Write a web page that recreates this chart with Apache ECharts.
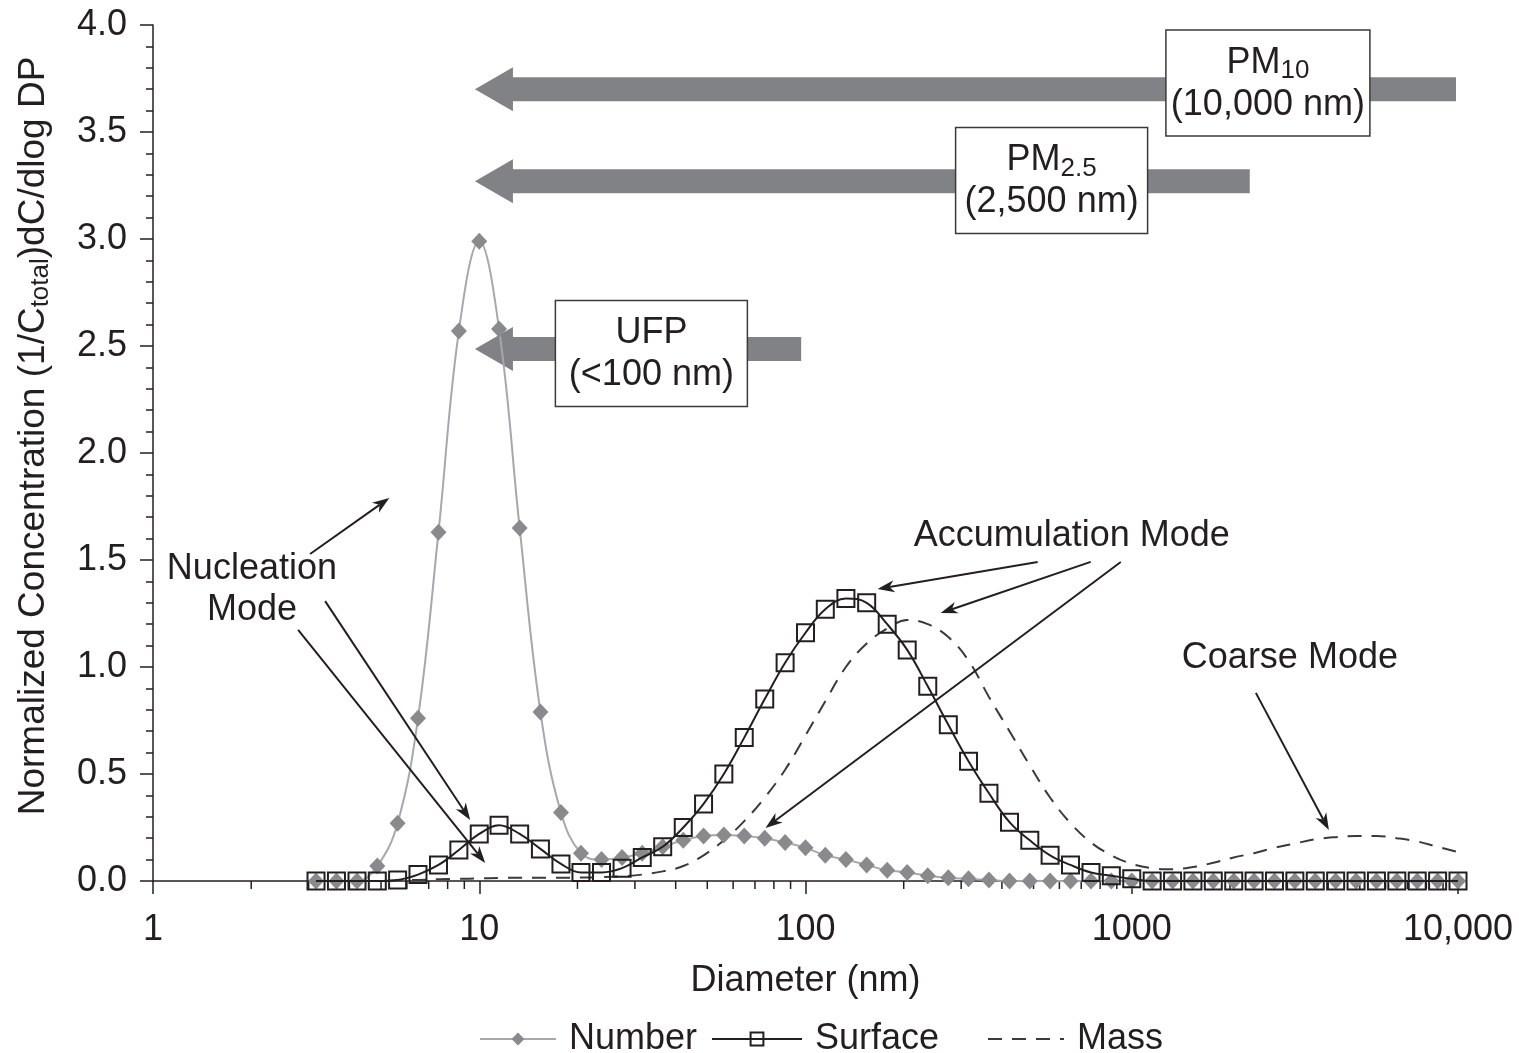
<!DOCTYPE html>
<html>
<head>
	<meta charset="utf-8">
	<title>Particle size distribution</title>
	<script src="https://cdn.jsdelivr.net/npm/echarts@6/dist/echarts.min.js"></script>
	<style>html, body { margin: 0; padding: 0; background: #fff; }</style>
</head>
<body>
	<div id="main" style="width: 1519px;height: 1053px;"></div>
<script type="text/javascript">
	// diameters (nm), 16 points per decade
	var diameters = [3.16, 3.65, 4.22, 4.87, 5.62, 6.49, 7.50, 8.66, 10, 11.5, 13.3, 15.4, 17.8, 20.5, 23.7, 27.4,
		31.6, 36.5, 42.2, 48.7, 56.2, 64.9, 75.0, 86.6, 100, 115, 133, 154, 178, 205, 237, 274,
		316, 365, 422, 487, 562, 649, 750, 866, 1000, 1155, 1334, 1540, 1778, 2054, 2371, 2738,
		3162, 3652, 4217, 4870, 5623, 6494, 7499, 8660, 10000];
	var numberVals = [0, 0, 0, 0.07, 0.27, 0.76, 1.63, 2.57, 2.99, 2.58, 1.65, 0.79, 0.32, 0.13, 0.10, 0.11,
		0.13, 0.16, 0.19, 0.21, 0.215, 0.21, 0.20, 0.18, 0.155, 0.12, 0.10, 0.075, 0.05, 0.04, 0.025, 0.015,
		0.01, 0.005, 0, 0, 0, 0, 0, 0, 0, 0, 0, 0, 0, 0, 0, 0,
		0, 0, 0, 0, 0, 0, 0, 0, 0];
	var surfaceVals = [0, 0, 0, 0, 0.005, 0.03, 0.075, 0.145, 0.22, 0.26, 0.22, 0.15, 0.08, 0.04, 0.04, 0.06,
		0.11, 0.16, 0.25, 0.36, 0.50, 0.67, 0.85, 1.02, 1.16, 1.27, 1.32, 1.30, 1.20, 1.08, 0.91, 0.73,
		0.56, 0.41, 0.275, 0.19, 0.12, 0.075, 0.04, 0.025, 0.01, 0, 0, 0, 0, 0, 0, 0,
		0, 0, 0, 0, 0, 0, 0, 0, 0];
	var massVals = [0, 0, 0, 0, 0.003, 0.005, 0.008, 0.01, 0.012, 0.014, 0.015, 0.015, 0.015, 0.016, 0.018, 0.022,
		0.03, 0.045, 0.07, 0.12, 0.19, 0.28, 0.39, 0.52, 0.68, 0.84, 1.00, 1.11, 1.18, 1.22, 1.20, 1.14,
		1.03, 0.86, 0.70, 0.54, 0.39, 0.27, 0.18, 0.12, 0.08, 0.06, 0.055, 0.065, 0.085, 0.11, 0.13, 0.155,
		0.175, 0.195, 0.205, 0.21, 0.21, 0.20, 0.185, 0.16, 0.135];
	var xTickLabels = ['1', '10', '100', '1000', '10,000'];
	var xMinorTicks = [2, 3, 4, 5, 6, 7, 8, 9, 20, 30, 40, 50, 60, 70, 80, 90,
		200, 300, 400, 500, 600, 700, 800, 900, 2000, 3000, 4000, 5000, 6000, 7000, 8000, 9000];

	// annotations, anchored in data coordinates (diameter, value)
	var sizeArrows = [
		{ tip: 9.7, end: 9860, y: 3.70 },
		{ tip: 9.7, end: 2300, y: 3.27 },
		{ tip: 9.7, end: 97, y: 2.486 }
	];
	var sizeBoxes = [
		{ name: 'PM', sub: '10', range: '(10,000 nm)', x: 2614, y: 3.729, w: 204 },
		{ name: 'PM', sub: '2.5', range: '(2,500 nm)', x: 568, y: 3.273, w: 192 },
		{ name: 'UFP', sub: '', range: '(<100 nm)', x: 33.7, y: 2.465, w: 192 }
	];
	var modeLabels = [
		{ text: 'Nucleation\nMode', x: 2.01, y: 1.36 },
		{ text: 'Accumulation Mode', x: 654.6, y: 1.612 },
		{ text: 'Coarse Mode', x: 3053, y: 1.04 }
	];
	var modeArrows = [
		[[3.03, 1.528], [5.30, 1.790]],
		[[3.37, 1.308], [9.38, 0.285]],
		[[2.785, 1.173], [10.43, 0.084]],
		[[514.8, 1.491], [166.3, 1.364]],
		[[748.5, 1.491], [259.5, 1.252]],
		[[925.4, 1.491], [75.4, 0.248]],
		[[2401, 0.879], [4021, 0.238]]
	];

	var FONT = 'Liberation Sans, Arial, sans-serif';
	var INK = '#231f20';

	function pairs(xs, ys) {
		return xs.map(function (x, i) { return [x, ys[i]]; });
	}

	var legendText = { fontSize: 36, color: INK, fontFamily: FONT, padding: [0, 0, 0, 8] };

	var myChart = echarts.init(document.getElementById('main'));
	var option = {
		animation: false,
		textStyle: { fontFamily: FONT, color: INK },
		grid: { left: 153, right: 61, top: 25, bottom: 172, containLabel: false, outerBoundsMode: 'none' },
		legend: [
			{ data: ['Number'], left: 474, top: 1016, itemWidth: 76, itemHeight: 16, textStyle: legendText },
			{ data: ['Surface'], left: 706, top: 1016, itemWidth: 90, itemHeight: 16, textStyle: legendText },
			{ data: ['Mass'], left: 982, top: 1016, itemWidth: 76, itemHeight: 16, textStyle: legendText,
				itemStyle: { color: 'rgba(0,0,0,0)', borderColor: 'rgba(0,0,0,0)', borderWidth: 0 } }
		],
		xAxis: {
			type: 'log',
			logBase: 10,
			min: 1,
			max: 10000,
			name: 'Diameter (nm)',
			nameLocation: 'middle',
			nameGap: 82,
			nameTextStyle: { fontSize: 36, color: INK, fontFamily: FONT },
			axisLine: { lineStyle: { color: INK, width: 1.5 } },
			axisTick: { inside: false, length: 13, lineStyle: { color: INK, width: 1.5 } },
			axisLabel: {
				fontSize: 36, color: INK, fontFamily: FONT, margin: 31,
				formatter: function (v) { return xTickLabels[Math.round(Math.log10(v))]; }
			},
			splitLine: { show: false }
		},
		yAxis: {
			type: 'value',
			min: 0,
			max: 4,
			interval: 0.5,
			name: '{m|Normalized Concentration (1/C}{s|total}{m|)dC/dlog DP}',
			nameLocation: 'middle',
			nameGap: 99,
			nameTextStyle: {
				padding: [0, 0, 0, 34],
				rich: {
					m: { fontSize: 37, fontFamily: FONT, color: INK, lineHeight: 40 },
					s: { fontSize: 26, fontFamily: FONT, color: INK, lineHeight: 20, verticalAlign: 'bottom' }
				}
			},
			axisLine: { show: true, lineStyle: { color: INK, width: 1.5 } },
			axisTick: { show: true, inside: false, length: 13, lineStyle: { color: INK, width: 1.5 } },
			minorTick: { show: true, splitNumber: 5, length: 7, lineStyle: { color: INK, width: 1.5 } },
			axisLabel: {
				fontSize: 36, color: INK, fontFamily: FONT, margin: 26,
				formatter: function (v) { return v.toFixed(1); }
			},
			splitLine: { show: false }
		},
		series: [
			{
				name: 'Mass',
				type: 'line',
				data: pairs(diameters, massVals),
				smooth: 0.4,
				showSymbol: false,
				symbol: 'none',
				z: 2,
				lineStyle: { color: '#3a3a3c', width: 2, type: [14, 10] },
				itemStyle: { color: '#3a3a3c' }
			},
			{
				name: 'Number',
				type: 'line',
				data: pairs(diameters, numberVals),
				smooth: 0.4,
				symbol: 'diamond',
				symbolSize: [16, 17],
				z: 3,
				lineStyle: { color: '#a7a8ab', width: 2 },
				itemStyle: { color: '#898a8d' }
			},
			{
				name: 'Surface',
				type: 'line',
				data: pairs(diameters, surfaceVals),
				smooth: 0.4,
				symbol: 'rect',
				symbolSize: 17,
				z: 4,
				lineStyle: { color: INK, width: 2 },
				itemStyle: { color: 'rgba(255,255,255,0)', borderColor: INK, borderWidth: 2 }
			},
			{
				// minor ticks of the log axis at 2..9 of each decade
				name: 'minorTicks',
				type: 'custom',
				silent: true,
				clip: false,
				data: xMinorTicks.map(function (v) { return [v, 0]; }),
				renderItem: function (params, api) {
					var p = api.coord([api.value(0), 0]);
					return {
						type: 'line',
						shape: { x1: p[0], y1: p[1], x2: p[0], y2: p[1] + 8 },
						style: { stroke: INK, lineWidth: 1.5 }
					};
				}
			}
		]
	};
	myChart.setOption(option);

	// annotations drawn after layout so they follow the axes
	function px(d, v) {
		return myChart.convertToPixel({ gridIndex: 0 }, [d, v]);
	}
	var els = [];
	sizeArrows.forEach(function (a) {
		var t = px(a.tip, a.y), r = px(a.end, a.y);
		var x = t[0], y = t[1];
		els.push({
			type: 'polygon', z: 1, silent: true,
			shape: { points: [[x, y], [x + 38, y - 22], [x + 38, y - 12], [r[0], y - 12], [r[0], y + 12], [x + 38, y + 12], [x + 38, y + 22]] },
			style: { fill: '#818285' }
		});
	});
	sizeBoxes.forEach(function (b) {
		var c = px(b.x, b.y);
		els.push({
			type: 'rect', z: 5, silent: true,
			shape: { x: c[0] - b.w / 2, y: c[1] - 53, width: b.w, height: 106 },
			style: { fill: '#fff', stroke: '#3a3a3c', lineWidth: 1.5 }
		});
		var txt = '{m|' + b.name + '}' + (b.sub ? '{s|' + b.sub + '}' : '') + '\n{m|' + b.range + '}';
		els.push({
			type: 'text', z: 6, silent: true,
			x: c[0], y: c[1] + 1,
			style: {
				text: txt, align: 'center', verticalAlign: 'middle',
				rich: {
					m: { fontSize: 36, fontFamily: FONT, fill: INK, lineHeight: 42 },
					s: { fontSize: 26, fontFamily: FONT, fill: INK, lineHeight: 20, verticalAlign: 'bottom' }
				}
			}
		});
	});
	modeLabels.forEach(function (m) {
		var c = px(m.x, m.y);
		els.push({
			type: 'text', z: 6, silent: true,
			x: c[0], y: c[1],
			style: { text: m.text, align: 'center', verticalAlign: 'middle', fontSize: 36, fontFamily: FONT, fill: INK, lineHeight: 41 }
		});
	});
	modeArrows.forEach(function (a) {
		var s = px(a[0][0], a[0][1]), t = px(a[1][0], a[1][1]);
		var dx = t[0] - s[0], dy = t[1] - s[1];
		var len = Math.sqrt(dx * dx + dy * dy);
		var ux = dx / len, uy = dy / len, nx = -uy, ny = ux;
		var hl = 17, hw = 6;
		els.push({
			type: 'line', z: 6, silent: true,
			shape: { x1: s[0], y1: s[1], x2: t[0] - ux * 12, y2: t[1] - uy * 12 },
			style: { stroke: INK, lineWidth: 2 }
		});
		els.push({
			type: 'polygon', z: 6, silent: true,
			shape: { points: [
				[t[0], t[1]],
				[t[0] - ux * hl + nx * hw, t[1] - uy * hl + ny * hw],
				[t[0] - ux * 12, t[1] - uy * 12],
				[t[0] - ux * hl - nx * hw, t[1] - uy * hl - ny * hw]
			] },
			style: { fill: INK }
		});
	});
	myChart.setOption({ graphic: { elements: els } });
</script>
</body>
</html>
